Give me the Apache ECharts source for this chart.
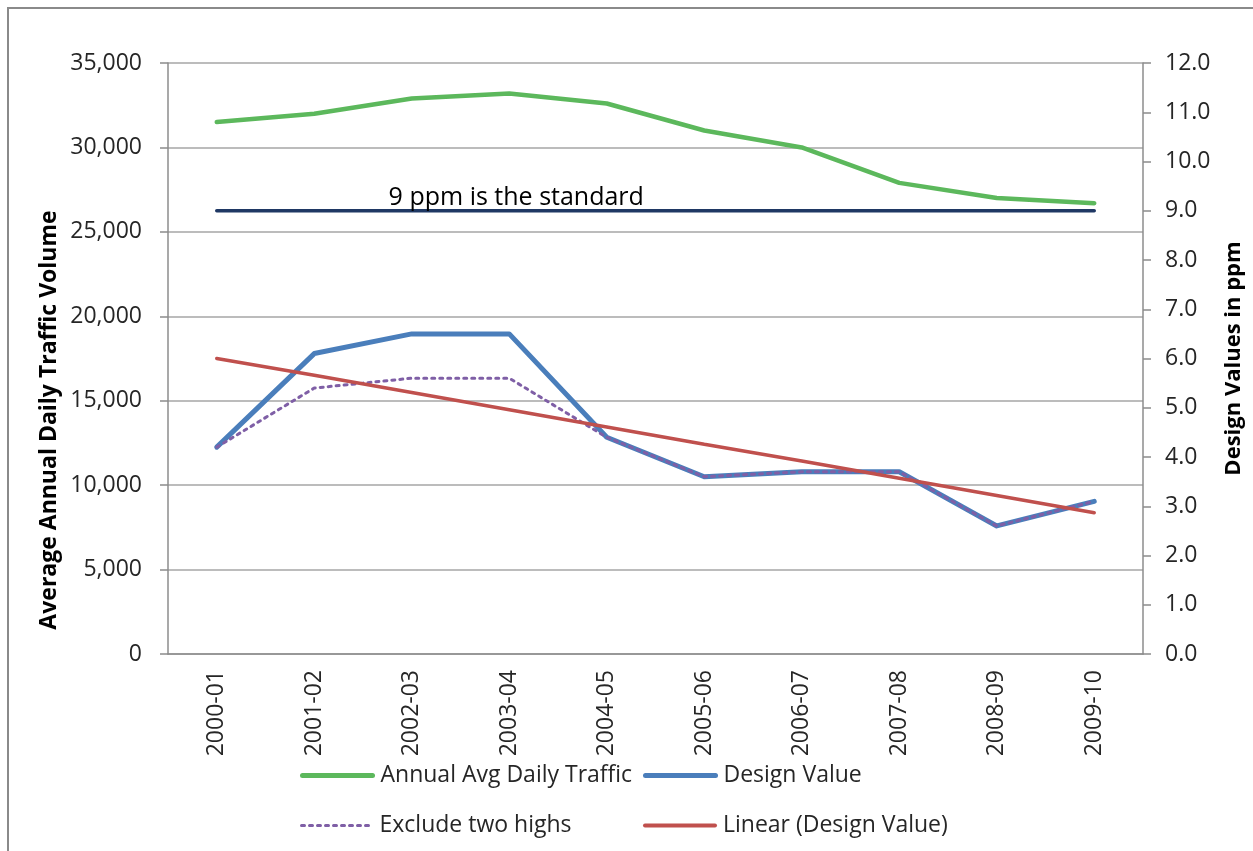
<!DOCTYPE html>
<html>
<head>
<meta charset="utf-8">
<title>Traffic and design values</title>
<script src="https://cdn.jsdelivr.net/npm/echarts@6/dist/echarts.min.js"></script>
<style>
  html, body { margin: 0; padding: 0; background: #fff; }
  #chart { width: 1253px; height: 851px; }
</style>
</head>
<body>
<div id="chart"></div>
<script>
// data
const years = ['2000-01', '2001-02', '2002-03', '2003-04', '2004-05', '2005-06', '2006-07', '2007-08', '2008-09', '2009-10'];
const traffic = [31500, 32000, 32900, 33200, 32600, 31000, 30000, 27900, 27000, 26700];
const designValue = [4.2, 6.1, 6.5, 6.5, 4.4, 3.6, 3.7, 3.7, 2.6, 3.1];
const excludeHighs = [4.2, 5.4, 5.6, 5.6, 4.4, 3.6, 3.7, 3.7, 2.6, 3.1];
const linearTrend = [6.0, 5.66, 5.31, 4.96, 4.61, 4.26, 3.92, 3.57, 3.22, 2.87];
const standard = [9, 9, 9, 9, 9, 9, 9, 9, 9, 9];
const standardLabel = '9 ppm is the standard';

const FONT = 'Open Sans';
const textColor = '#262626';
const axisGray = '#8c8c8c';

const chart = echarts.init(document.getElementById('chart'));

// one legend per entry so the two columns line up like the original
function legendAt(name, left, top, lineStyle) {
  return {
    data: [name],
    left: left,
    top: top,
    padding: 0,
    itemWidth: 70,
    itemHeight: 14,
    itemStyle: { opacity: 0 },
    lineStyle: lineStyle,
    textStyle: { fontFamily: FONT, fontSize: 23, color: textColor, padding: [0, 0, 0, 3] }
  };
}

const option = {
  animation: false,
  backgroundColor: '#fff',
  graphic: [
    {
      // outer chart frame, runs off the right and bottom edges
      type: 'rect',
      shape: { x: 8, y: 8, width: 1270, height: 870 },
      style: { fill: 'none', stroke: '#8a8a8a', lineWidth: 2 },
      silent: true
    },
    {
      type: 'text',
      x: 49,
      y: 420,
      rotation: Math.PI / 2,
      style: {
        text: 'Average Annual Daily Traffic Volume',
        font: 'bold 23px "Open Sans"',
        fill: '#000',
        align: 'center',
        verticalAlign: 'middle'
      }
    }
  ],
  legend: [
    legendAt('Annual Avg Daily Traffic', 300, 764, { width: 5, cap: 'round' }),
    legendAt('Design Value', 643, 764, { width: 5, cap: 'round' }),
    legendAt('Exclude two highs', 300, 814, { width: 3, type: [3, 5], cap: 'round' }),
    legendAt('Linear (Design Value)', 643, 814, { width: 4, cap: 'round' })
  ],
  grid: { left: 168, right: 101, top: 63, bottom: 197 },
  xAxis: {
    type: 'category',
    data: years,
    boundaryGap: true,
    axisLine: { lineStyle: { color: axisGray, width: 1.5 } },
    axisTick: { length: 8, lineStyle: { color: axisGray, width: 1.5 } },
    axisLabel: {
      rotate: 90, margin: 16, interval: 0,
      fontFamily: FONT, fontSize: 23, color: textColor
    }
  },
  yAxis: [
    {
      type: 'value',
      min: 0, max: 35000, interval: 5000,
      axisLine: { show: true, lineStyle: { color: axisGray, width: 1.5 } },
      axisTick: { show: true, length: 8, lineStyle: { color: axisGray, width: 1.5 } },
      splitLine: { lineStyle: { color: '#a6a6a6', width: 1.5 } },
      axisLabel: {
        margin: 26, fontFamily: FONT, fontSize: 23, color: textColor,
        formatter: v => v.toLocaleString('en-US')
      }
    },
    {
      type: 'value',
      min: 0, max: 12, interval: 1,
      name: 'Design Values in ppm',
      nameLocation: 'middle',
      nameRotate: 90,
      nameGap: 80,
      nameTextStyle: { fontFamily: FONT, fontSize: 22, fontWeight: 'bold', color: '#000' },
      axisLine: { show: true, lineStyle: { color: axisGray, width: 1.5 } },
      axisTick: { show: true, length: 8, lineStyle: { color: axisGray, width: 1.5 } },
      splitLine: { show: false },
      axisLabel: {
        margin: 22, fontFamily: FONT, fontSize: 23, color: textColor,
        formatter: v => v.toFixed(1)
      }
    }
  ],
  series: [
    {
      name: 'Annual Avg Daily Traffic',
      type: 'line',
      data: traffic,
      symbol: 'none',
      color: '#5cb85c',
      lineStyle: { width: 4.5, cap: 'round', join: 'round' }
    },
    {
      name: 'Design Value',
      type: 'line',
      yAxisIndex: 1,
      data: designValue,
      symbol: 'none',
      color: '#4a7ebb',
      lineStyle: { width: 5, cap: 'round', join: 'round' }
    },
    {
      name: 'Exclude two highs',
      type: 'line',
      yAxisIndex: 1,
      data: excludeHighs,
      symbol: 'none',
      color: '#7f5fa6',
      lineStyle: { width: 3, type: [3, 5], cap: 'round', join: 'round' }
    },
    {
      name: 'Linear (Design Value)',
      type: 'line',
      yAxisIndex: 1,
      data: linearTrend,
      symbol: 'none',
      color: '#c0504d',
      lineStyle: { width: 3.5, cap: 'round' }
    },
    {
      name: 'Standard',
      type: 'line',
      yAxisIndex: 1,
      data: standard,
      symbol: 'none',
      color: '#1f3864',
      lineStyle: { width: 3.5, cap: 'round' },
      markPoint: {
        symbol: 'circle',
        symbolSize: 0,
        silent: true,
        data: [{ coord: [years[3], standard[3]] }],
        label: {
          show: true,
          position: 'top',
          distance: 0,
          offset: [7, 0],
          formatter: standardLabel,
          fontFamily: FONT,
          fontSize: 25,
          color: '#000'
        }
      }
    }
  ]
};

chart.setOption(option);
</script>
</body>
</html>
